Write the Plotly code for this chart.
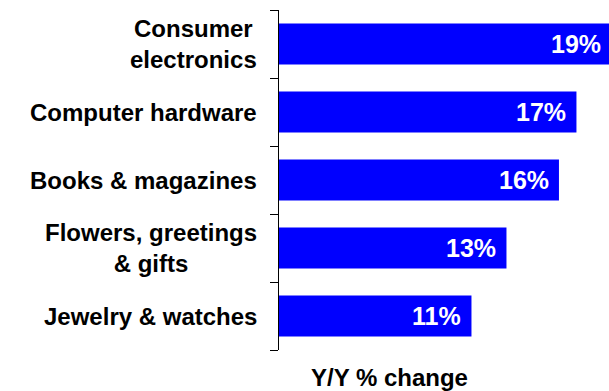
import plotly.graph_objects as go

# Year-over-year growth by retail category (top to bottom)
categories = [
    "Consumer<br>electronics",
    "Computer hardware",
    "Books & magazines",
    "Flowers, greetings<br>& gifts",
    "Jewelry & watches",
]
growth = [19, 17, 16, 13, 11]
value_labels = ["19%", "17%", "16%", "13%", "11%"]
axis_title = "Y/Y % change"

FONT = "Liberation Sans, Arial, sans-serif"
BLUE = "#0000FF"

X_MAX = 18.86          # right edge of the value axis
PLOT_LEFT, PLOT_RIGHT = 279, 609

n = len(categories)
rows = list(range(n))                       # one row per category
boundaries = [i - 0.5 for i in range(n + 1)]  # tick marks between rows

fig = go.Figure(
    go.Bar(
        x=growth,
        y=rows,
        orientation="h",
        marker=dict(color=BLUE, line=dict(width=0)),
        width=0.6,
        hoverinfo="skip",
    )
)

annotations = []
# Value labels inside the right end of each bar (paper x so the longest
# bar, which runs past the plot edge, still gets its label)
for row, val, lab in zip(rows, growth, value_labels):
    annotations.append(dict(
        x=val / X_MAX, y=row, xref="paper", yref="y",
        text=f"<b>{lab}</b>", showarrow=False,
        xanchor="right", yanchor="middle", xshift=-8,
        font=dict(family=FONT, size=25, color="white"),
    ))

# Category names, centered blocks right-aligned next to the axis
for row, cat in zip(rows, categories):
    annotations.append(dict(
        x=0, y=row, xref="paper", yref="y",
        text=f"<b>{cat}</b>", showarrow=False,
        xanchor="right", yanchor="middle", align="center", xshift=-20,
        font=dict(family=FONT, size=24, color="black"),
    ))

# Axis caption below the bars
annotations.append(dict(
    x=(389 - PLOT_LEFT) / (PLOT_RIGHT - PLOT_LEFT), y=-0.08,
    xref="paper", yref="paper",
    text=f"<b>{axis_title}</b>", showarrow=False,
    xanchor="center", yanchor="middle",
    font=dict(family=FONT, size=24, color="black"),
))

fig.update_layout(
    width=609, height=391,
    margin=dict(l=PLOT_LEFT, r=609 - PLOT_RIGHT, t=10, b=41),
    plot_bgcolor="white", paper_bgcolor="white",
    showlegend=False,
    xaxis=dict(range=[0, X_MAX], visible=False, fixedrange=True),
    yaxis=dict(
        range=[n - 0.5, -0.5],          # first category on top
        tickmode="array", tickvals=boundaries,
        showticklabels=False,
        showline=True, linecolor="black", linewidth=1,
        ticks="outside", ticklen=8, tickcolor="black", tickwidth=1,
        showgrid=False, zeroline=False, fixedrange=True,
    ),
    annotations=annotations,
)

fig.write_html("out.html")
